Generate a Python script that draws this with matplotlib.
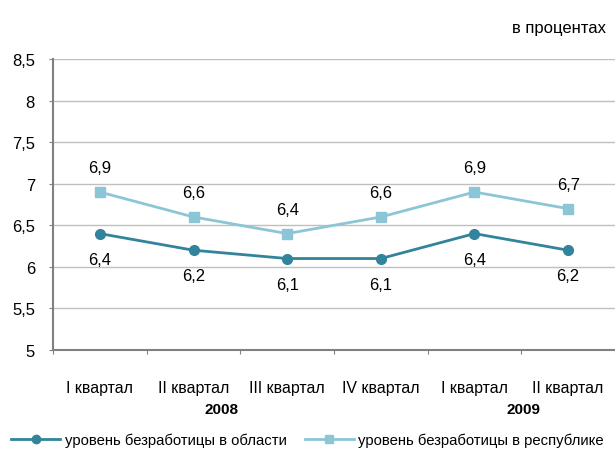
import matplotlib
matplotlib.use("Agg")
import matplotlib.pyplot as plt
from matplotlib.lines import Line2D

plt.rcParams['font.family'] = ['Liberation Sans', 'DejaVu Sans']

categories = ["I квартал", "II квартал", "III квартал", "IV квартал", "I квартал", "II квартал"]
years = ["2008", "2009"]
oblast = [6.4, 6.2, 6.1, 6.1, 6.4, 6.2]
respublika = [6.9, 6.6, 6.4, 6.6, 6.9, 6.7]
yticks = [5, 5.5, 6, 6.5, 7, 7.5, 8, 8.5]

c_dark = "#31849B"
c_light = "#8CC6D6"

fig = plt.figure(figsize=(6.15, 4.52), dpi=100)
ax = fig.add_axes([53/615, 1-351/452, 562/615, (351-60)/452])

x = list(range(len(categories)))
ax.plot(x, oblast, color=c_dark, lw=2, marker='o', ms=7, zorder=3)
ax.plot(x, respublika, color=c_light, lw=2, marker='s', ms=7, zorder=3)

fs = 12
for xi, v in zip(x, oblast):
    ax.annotate(f"{v:.1f}".replace('.', ','), (xi, v), xytext=(0, -13), textcoords='offset points',
                ha='center', va='top', fontsize=fs, color='black')
for xi, v in zip(x, respublika):
    ax.annotate(f"{v:.1f}".replace('.', ','), (xi, v), xytext=(0, 12), textcoords='offset points',
                ha='center', va='bottom', fontsize=fs, color='black')

ax.set_xlim(-0.5, len(categories) - 0.5)
ax.set_ylim(5, 8.5)
ax.set_yticks(yticks)
ax.set_yticklabels([f"{t:g}".replace('.', ',') for t in yticks], fontsize=fs)
ax.yaxis.grid(True, color='#BFBFBF', lw=1)
ax.set_axisbelow(True)
ax.set_xticks([i - 0.5 for i in range(len(categories) + 1)])
ax.set_xticklabels([])
ax.tick_params(axis='x', length=3, color='#808080')
ax.tick_params(axis='y', length=3, color='#808080', pad=10)
for i, c in enumerate(categories):
    ax.text(i, -0.128, c, transform=ax.get_xaxis_transform(), ha='center', va='center', fontsize=11.4)
ax.text(1.3, -0.203, years[0], transform=ax.get_xaxis_transform(), ha='center', va='center',
        fontsize=11, fontweight='bold')
ax.text(4.52, -0.203, years[1], transform=ax.get_xaxis_transform(), ha='center', va='center',
        fontsize=11, fontweight='bold')

for s in ['top', 'right']:
    ax.spines[s].set_visible(False)
for s in ['left', 'bottom']:
    ax.spines[s].set_color('#808080')
    ax.spines[s].set_linewidth(1.5)

fig.text(606/615, 1-28/452, "в процентах", ha='right', va='center', fontsize=fs)

handles = [Line2D([], [], color=c_dark, lw=2, marker='o', ms=6),
           Line2D([], [], color=c_light, lw=2, marker='s', ms=6)]
fig.legend(handles, ["уровень безработицы в области", "уровень безработицы в республике"],
           loc='center', bbox_to_anchor=(0.5, 1-441/452), ncol=2, frameon=False,
           fontsize=10.7, handlelength=3.3, columnspacing=1.2, handletextpad=0.3,
           borderaxespad=0, borderpad=0)

fig.savefig("out.png", dpi=100)
